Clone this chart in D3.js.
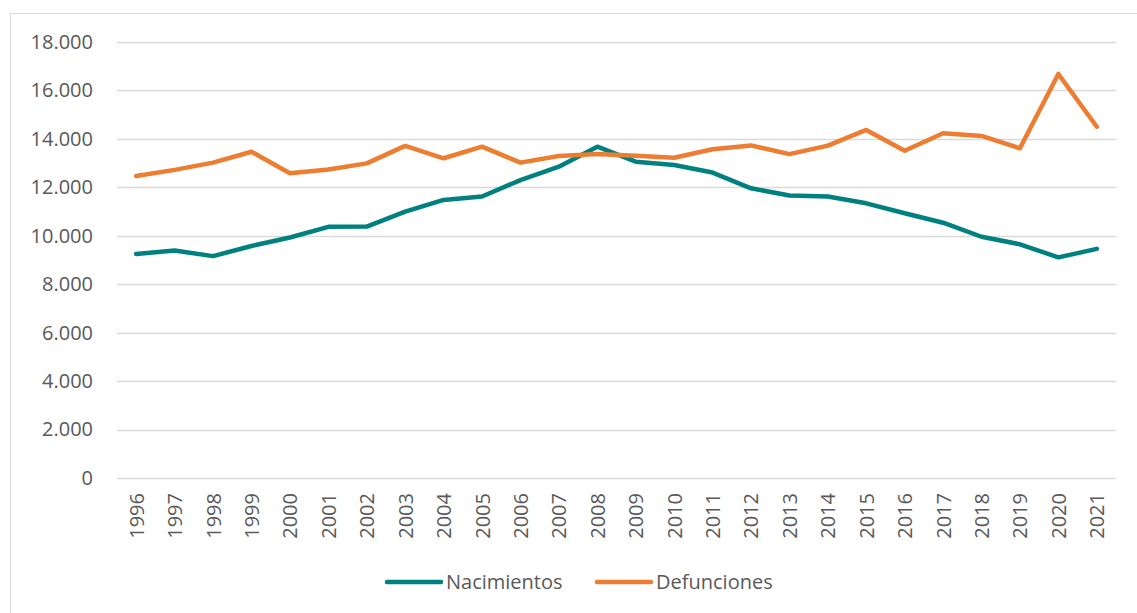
<!DOCTYPE html>
<html>
<head>
<meta charset="utf-8">
<script src="https://cdn.jsdelivr.net/npm/d3@7"></script>
<style>
  body { margin: 0; background: #fff; }
  svg { display: block; font-family: "Open Sans", sans-serif; }
</style>
</head>
<body>
<div id="chart"></div>
<script>
// data
var years = ["1996","1997","1998","1999","2000","2001","2002","2003","2004","2005","2006","2007","2008",
             "2009","2010","2011","2012","2013","2014","2015","2016","2017","2018","2019","2020","2021"];
var nacimientos = [9250, 9390, 9160, 9580, 9930, 10370, 10380, 11000, 11480, 11620, 12300, 12850, 13680,
                   13060, 12920, 12610, 11960, 11660, 11620, 11340, 10930, 10540, 9960, 9650, 9110, 9460];
var defunciones = [12470, 12720, 13020, 13470, 12580, 12740, 12990, 13710, 13200, 13680, 13020, 13290, 13380,
                   13300, 13220, 13570, 13730, 13370, 13720, 14370, 13510, 14230, 14120, 13610, 16680, 14500];
var yTicks = [0, 2000, 4000, 6000, 8000, 10000, 12000, 14000, 16000, 18000];
var seriesNames = ["Nacimientos", "Defunciones"];
var colors = ["#00807f", "#ed7d31"];

var W = 1137, H = 613;
var margin = {top: 42, right: 21, bottom: 135, left: 117},
    width = W - margin.left - margin.right,
    height = H - margin.top - margin.bottom;

var root = d3.select("#chart")
  .append("svg")
    .attr("width", W)
    .attr("height", H);

// chart frame (only top and left edges are inside the picture)
root.append("rect")
  .attr("x", 10.5)
  .attr("y", 13.5)
  .attr("width", W + 10)
  .attr("height", H + 10)
  .attr("fill", "none")
  .attr("stroke", "#d9d9d9")
  .attr("stroke-width", 1);

var svg = root.append("g")
  .attr("transform", "translate(" + margin.left + "," + margin.top + ")");

var x = d3.scalePoint()
  .domain(years)
  .range([0, width])
  .padding(0.5);

var y = d3.scaleLinear()
  .domain([0, 18000])
  .range([height, 0]);

var fmt = function(v) { return v === 0 ? "0" : d3.format(",")(v).replace(/,/g, "."); };

// gridlines
svg.append("g")
  .selectAll("line")
  .data(yTicks)
  .join("line")
    .attr("x1", 0)
    .attr("x2", width)
    .attr("y1", d => Math.round(y(d)) + 0.5)
    .attr("y2", d => Math.round(y(d)) + 0.5)
    .attr("stroke", "#d9d9d9")
    .attr("stroke-width", 1.5);

// Y axis labels
var yAxis = svg.append("g")
  .call(d3.axisLeft(y).tickValues(yTicks).tickFormat(fmt).tickSize(0).tickPadding(24));
yAxis.select(".domain").remove();
yAxis.selectAll("text")
  .attr("fill", "#595959")
  .style("font-size", "20px")
  .style("font-family", "'Open Sans', sans-serif");

// X axis labels, rotated
var xAxis = svg.append("g")
  .attr("transform", "translate(0," + height + ")")
  .call(d3.axisBottom(x).tickSize(0));
xAxis.select(".domain").remove();
xAxis.selectAll("text")
  .attr("fill", "#595959")
  .style("font-size", "20px")
  .style("font-family", "'Open Sans', sans-serif")
  .attr("text-anchor", "end")
  .attr("transform", "rotate(-90)")
  .attr("x", -15)
  .attr("y", 0)
  .attr("dy", "0.35em");

// lines
var line = d3.line()
  .x((d, i) => x(years[i]))
  .y(d => y(d));

[nacimientos, defunciones].forEach((vals, k) => {
  svg.append("path")
    .datum(vals)
    .attr("fill", "none")
    .attr("stroke", colors[k])
    .attr("stroke-width", 4.5)
    .attr("stroke-linejoin", "round")
    .attr("stroke-linecap", "round")
    .attr("d", line);
});

// legend
var legendX = [387, 597];
var legend = root.append("g");
seriesNames.forEach((name, k) => {
  var g = legend.append("g").attr("transform", "translate(" + legendX[k] + ",582)");
  g.append("line")
    .attr("x1", 0).attr("x2", 54)
    .attr("y1", 0).attr("y2", 0)
    .attr("stroke", colors[k])
    .attr("stroke-width", 4.5)
    .attr("stroke-linecap", "round");
  g.append("text")
    .attr("x", 59)
    .attr("y", 0)
    .attr("dy", "0.35em")
    .attr("fill", "#595959")
    .style("font-size", "20px")
    .text(name);
});
</script>
</body>
</html>
